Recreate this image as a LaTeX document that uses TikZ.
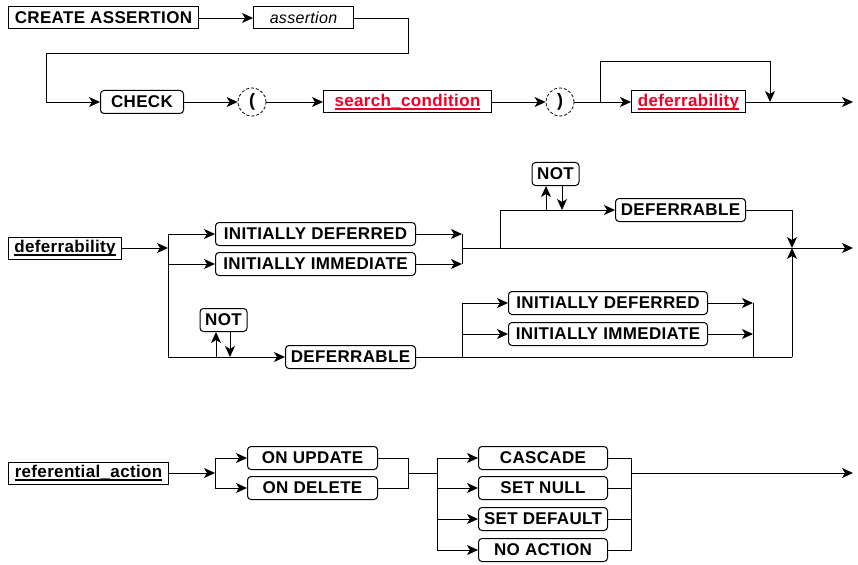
\documentclass[tikz,border=0pt]{standalone}
\usepackage{fontspec}
\setmainfont{Liberation Sans}[LetterSpace=2]
\usetikzlibrary{arrows.meta, positioning, calc}
\definecolor{refred}{HTML}{F00028}
\newsavebox\reflinebox
\newcommand{\refline}[1]{\sbox\reflinebox{#1}\rlap{\rule[-3.5pt]{\wd\reflinebox}{1.8pt}}\usebox\reflinebox}

\begin{document}
\begin{tikzpicture}[x=1pt, y=-1pt,
  >={Stealth[length=11pt, width=10pt, inset=3pt]},
  kwbox/.style={draw, rounded corners=3.5pt, line width=1pt, minimum height=23pt,
    inner sep=2pt, font=\fontsize{17}{19}\selectfont\bfseries},
  refbox/.style={draw, line width=1pt, minimum height=22pt, inner sep=2pt,
    font=\fontsize{17}{19}\selectfont\bfseries},
  parbox/.style={circle, draw, densely dashed, line width=0.8pt, minimum size=28pt,
    inner sep=0pt, font=\fontsize{18}{20}\selectfont\bfseries},
  wire/.style={line width=0.9pt},
  arr/.style={->, line width=0.9pt},
]
\useasboundingbox (0,0) rectangle (858,564);

% =============================================
% CREATE ASSERTION
% =============================================
\node[refbox, minimum width=190pt, anchor=west] (create) at (8,18) {CREATE ASSERTION};
\node[refbox, minimum width=100pt, anchor=west,
  font=\fontsize{16}{18}\selectfont\itshape] (assertion) at (253,18) {assertion};
\node[kwbox, minimum width=83pt, anchor=west] (check) at (100,102) {CHECK};
\node[parbox] (lpar) at (252,102) {(};
\node[refbox, minimum width=168pt, anchor=west, text=refred] (cond) at (323,102)
  {\refline{search\_condition}};
\node[parbox] (rpar) at (560,102) {)};
\node[refbox, minimum width=114pt, anchor=west, text=refred] (defer) at (631,102)
  {\refline{deferrability}};

\coordinate (loopa) at (408,53);
\coordinate (loopb) at (46,53);
\coordinate (skip1) at (600,102);
\coordinate (join1) at (770,102);
\coordinate (end1) at (853,102);

\draw[arr] (create) -- (assertion);
\draw[arr] (assertion.east) -| (loopa) -- (loopb) |- (check.west);
\draw[arr] (check) -- (lpar);
\draw[arr] (lpar) -- (cond);
\draw[arr] (cond) -- (rpar);
\draw[wire] (rpar) -- (skip1);
\draw[arr] (skip1) -- (defer);
\draw[arr] (skip1) -- ++(0,-41) -| (join1);
\draw[arr] (defer) -- (end1);

% =============================================
% deferrability
% =============================================
\node[refbox, minimum width=113pt, anchor=west] (deferdef) at (8,248) {\refline{deferrability}};
\coordinate (fork2) at (168,248);
\draw[arr] (deferdef) -- (fork2);

% initially deferred / immediate
\node[kwbox, minimum width=200pt, anchor=west] (initdef) at (215,234) {INITIALLY DEFERRED};
\node[kwbox, minimum width=200pt, anchor=west] (initimm) at (215,264) {INITIALLY IMMEDIATE};
\draw[arr] (fork2) |- (initdef);
\draw[arr] (fork2) |- (initimm);

\coordinate (join2) at (462,248);
\coordinate (end2) at (853,248);
\draw[arr] (initdef) -- (initdef -| join2);
\draw[arr] (initimm) -- (initimm -| join2);
\draw[wire] (initdef -| join2) -- (initimm -| join2);
\draw[arr] (join2) -- (end2);

% optional [NOT] DEFERRABLE
\coordinate (skip2) at (500,248);
\coordinate (join3) at (792,248);
\node[kwbox, minimum width=130pt, anchor=west] (defertop) at (615,210) {DEFERRABLE};
\node[kwbox, minimum width=47pt] (nottop) at (555.5,174) {NOT};
\draw[arr] (skip2) |- (defertop);
\coordinate (notupa) at (546,210);
\coordinate (notdna) at (562,210);
\draw[arr] (notupa) -- (notupa |- nottop.south);
\draw[arr] (notdna |- nottop.south) -- (notdna);
\draw[arr] (defertop) -| (join3);

% [NOT] DEFERRABLE first
\node[kwbox, minimum width=130pt, anchor=west] (deferlow) at (285,357) {DEFERRABLE};
\node[kwbox, minimum width=47pt] (notlow) at (223.5,320) {NOT};
\draw[arr] (fork2) |- (deferlow);
\coordinate (notupb) at (216,357);
\coordinate (notdnb) at (230,357);
\draw[arr] (notupb) -- (notupb |- notlow.south);
\draw[arr] (notdnb |- notlow.south) -- (notdnb);

\coordinate (fork3) at (462,357);
\coordinate (join4) at (753,357);
\node[kwbox, minimum width=199pt, anchor=west] (initdeflow) at (508,303) {INITIALLY DEFERRED};
\node[kwbox, minimum width=199pt, anchor=west] (initimmlow) at (508,334) {INITIALLY IMMEDIATE};
\draw[wire] (deferlow) -- (deferlow -| join3);
\draw[arr] (deferlow -| join3) -- (join3);
\draw[arr] (fork3) |- (initdeflow);
\draw[arr] (fork3) |- (initimmlow);
\draw[arr] (initdeflow) -- (initdeflow -| join4);
\draw[arr] (initimmlow) -- (initimmlow -| join4);
\draw[wire] (initdeflow -| join4) -- (join4);

% =============================================
% referential_action
% =============================================
\node[refbox, minimum width=160pt, anchor=west] (refact) at (8,473) {\refline{referential\_action}};
\coordinate (fork4) at (215,473);
\draw[arr] (refact) -- (fork4);

\node[kwbox, minimum width=130pt, anchor=west] (onupd) at (247,458) {ON UPDATE};
\node[kwbox, minimum width=130pt, anchor=west] (ondel) at (247,488) {ON DELETE};
\draw[arr] (fork4) |- (onupd);
\draw[arr] (fork4) |- (ondel);

\coordinate (join5) at (408,473);
\coordinate (fork5) at (437,473);
\draw[wire] (onupd) -| (join5);
\draw[wire] (ondel) -| (join5);
\draw[wire] (join5) -- (fork5);

\node[kwbox, minimum width=129pt, anchor=west] (cascade) at (478,458) {CASCADE};
\node[kwbox, minimum width=129pt, anchor=west] (setnull) at (478,488) {SET NULL};
\node[kwbox, minimum width=129pt, anchor=west] (setdef) at (478,519) {SET DEFAULT};
\node[kwbox, minimum width=129pt, anchor=west] (noact) at (478,550) {NO ACTION};
\draw[arr] (fork5) |- (cascade);
\draw[arr] (fork5) |- (setnull);
\draw[arr] (fork5) |- (setdef);
\draw[arr] (fork5) |- (noact);

\coordinate (join6) at (631,473);
\coordinate (end3) at (853,473);
\draw[wire] (cascade) -| (join6);
\draw[wire] (setnull) -| (join6);
\draw[wire] (setdef) -| (join6);
\draw[wire] (noact) -| (join6);
\draw[arr] (join6) -- (end3);

\end{tikzpicture}
\end{document}
